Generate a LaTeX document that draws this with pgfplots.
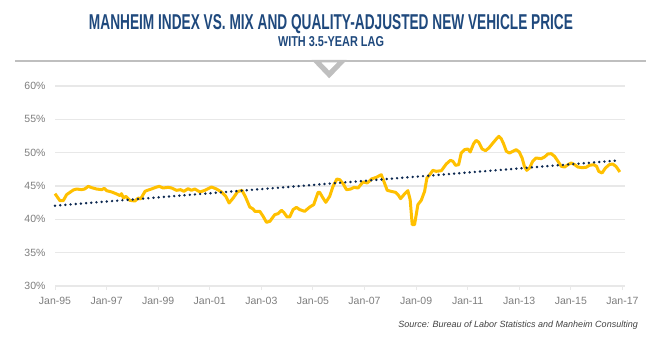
\documentclass[border=0pt]{standalone}
\usepackage{fontspec}
\setmainfont{Liberation Sans}
\usepackage{pgfplots}
\usepackage{pgfplotstable}
\pgfplotsset{compat=1.18}
\definecolor{titleblue}{RGB}{31,73,125}
\definecolor{gold}{RGB}{255,192,0}
\definecolor{navy}{RGB}{12,40,80}
\definecolor{gridgray}{RGB}{232,232,232}
\definecolor{ticklab}{RGB}{125,125,125}
\definecolor{chev}{RGB}{191,191,191}
\definecolor{srcgray}{RGB}{64,64,64}

\pgfplotstableread{
year val
1995.00 43.85
1995.19 42.8
1995.32 42.8
1995.45 43.7
1995.71 44.4
1995.84 44.55
1996.03 44.45
1996.15 44.55
1996.29 44.95
1996.42 44.75
1996.61 44.55
1996.81 44.45
1996.91 44.65
1997.00 44.3
1997.20 44.1
1997.39 43.8
1997.52 43.55
1997.58 43.85
1997.65 43.2
1997.75 43.45
1997.90 42.85
1998.10 42.75
1998.23 43.2
1998.32 43.05
1998.49 44.2
1998.58 44.35
1998.74 44.55
1998.91 44.8
1999.04 44.95
1999.19 44.7
1999.39 44.8
1999.52 44.7
1999.71 44.35
1999.87 44.45
2000.00 44.2
2000.16 44.6
2000.29 44.35
2000.42 44.55
2000.62 44.1
2000.81 44.35
2001.07 44.85
2001.26 44.55
2001.46 44.1
2001.62 43.45
2001.75 42.45
2001.91 43.2
2002.08 44.15
2002.25 44.35
2002.38 43.4
2002.48 42.5
2002.55 41.85
2002.68 41.55
2002.75 41.2
2002.94 41.2
2003.07 40.45
2003.20 39.55
2003.33 39.7
2003.52 40.7
2003.65 40.85
2003.78 41.35
2003.87 41.05
2004.00 40.35
2004.10 40.35
2004.23 41.45
2004.36 41.8
2004.49 41.45
2004.68 41.2
2004.88 41.85
2005.03 42.2
2005.20 44.05
2005.26 44.05
2005.39 43.2
2005.50 42.55
2005.65 43.45
2005.78 44.95
2005.93 46.05
2006.04 45.95
2006.17 45.35
2006.30 44.45
2006.47 44.55
2006.59 44.8
2006.75 44.7
2006.94 45.6
2007.11 45.45
2007.27 46.05
2007.46 46.3
2007.65 46.7
2007.75 45.7
2007.88 44.35
2008.03 44.2
2008.20 44.05
2008.30 43.7
2008.40 43.1
2008.56 43.85
2008.68 44.3
2008.77 42.95
2008.85 39.2
2008.94 39.2
2009.07 42.2
2009.20 42.85
2009.33 44.2
2009.42 46.2
2009.55 46.8
2009.65 47.35
2009.78 47.2
2009.98 47.3
2010.17 48.3
2010.33 48.85
2010.43 48.7
2010.53 48.1
2010.65 48.2
2010.75 49.95
2010.88 50.45
2011.01 50.55
2011.10 50.1
2011.23 51.35
2011.33 51.85
2011.43 51.55
2011.56 50.55
2011.69 50.3
2011.82 50.7
2011.98 51.45
2012.11 52.05
2012.21 52.45
2012.30 52.1
2012.39 51.35
2012.50 50.2
2012.62 49.95
2012.75 50.2
2012.88 50.45
2013.00 50.1
2013.11 49.2
2013.20 47.95
2013.29 47.35
2013.40 47.7
2013.52 48.7
2013.65 49.2
2013.85 49.1
2013.98 49.35
2014.11 49.8
2014.24 49.85
2014.37 49.45
2014.50 48.7
2014.63 47.95
2014.76 47.85
2014.89 48.2
2015.02 48.45
2015.15 48.2
2015.27 47.85
2015.44 47.75
2015.59 47.8
2015.72 48.1
2015.89 48.2
2016.00 47.95
2016.08 47.2
2016.21 46.95
2016.34 47.7
2016.49 48.2
2016.62 48.3
2016.75 47.95
2016.90 47.1
}\manheim

\pgfplotstableread{
year val
1995.00 42.05
2016.90 48.85
}\trend

\begin{document}
\begin{tikzpicture}[x=1pt,y=1pt]
\useasboundingbox (0,0) rectangle (662,352);
% title block
\node[anchor=base, text=titleblue, inner sep=0pt] at (331,322) {\resizebox{484pt}{15pt}{\bfseries MANHEIM INDEX VS. MIX AND QUALITY-ADJUSTED NEW VEHICLE PRICE}};
\node[anchor=base, text=titleblue, inner sep=0pt] at (331,305) {\resizebox{106pt}{10pt}{\bfseries WITH 3.5-YEAR LAG}};
\draw[chev, line width=2pt] (15,291) -- (646,291);
\fill[chev] (311.7,292) -- (346.7,292) -- (329.2,273.7) -- cycle;
\fill[white] (321.5,289.5) -- (337,289.5) -- (329.2,281.5) -- cycle;

\begin{axis}[
  at={(55pt,66pt)}, anchor=south west,
  scale only axis, width=570pt, height=200pt,
  xmin=1995, xmax=2017.1, ymin=30, ymax=60,
  axis line style={draw=none},
  ymajorgrids, grid style={gridgray, line width=1.5pt},
  ytick={30,35,...,60},
  yticklabel={\pgfmathprintnumber{\tick}\%},
  xtick={1995,1997,...,2017},
  xticklabels={Jan-95,Jan-97,Jan-99,Jan-01,Jan-03,Jan-05,Jan-07,Jan-09,Jan-11,Jan-13,Jan-15,Jan-17},
  ytick style={draw=none},
  xtick style={gridgray, line width=1pt},
  xtick pos=left,
  tick align=outside, major tick length=4pt,
  /pgf/number format/assume math mode=true,
  ticklabel style={font=\fontsize{10.5}{12}\selectfont, text=ticklab},
  xticklabel style={yshift=-4pt},
  yticklabel style={xshift=-2pt},
  clip=false,
]
\addplot[gold, line width=3pt, line join=round] table[x=year,y=val] {\manheim};
\addplot[navy, line width=2.7pt, line cap=round, dash pattern=on 0pt off 5.2pt] table[x=year,y=val] {\trend};
\end{axis}

\node[anchor=base east, font=\itshape\fontsize{9}{10}\selectfont, text=srcgray, inner sep=0pt] at (638,24) {Source: Bureau of Labor Statistics and Manheim Consulting};
\end{tikzpicture}
\end{document}
